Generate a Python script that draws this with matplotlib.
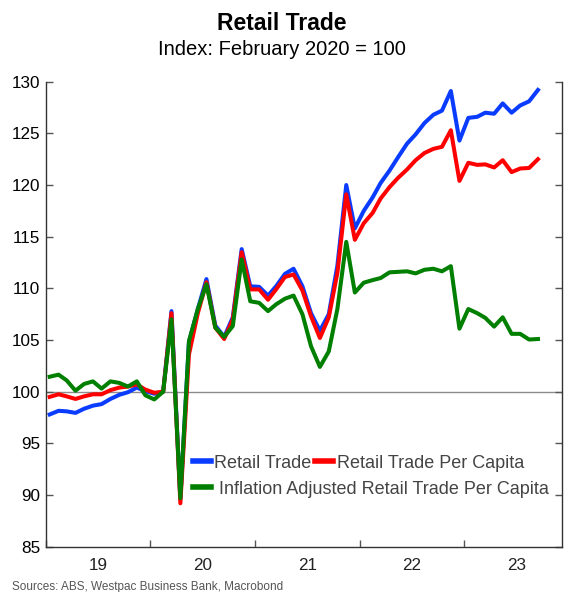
import matplotlib
matplotlib.use('Agg')
import matplotlib.pyplot as plt
import matplotlib.dates as mdates
from matplotlib.lines import Line2D
import pandas as pd
import datetime as dt

plt.rcParams['font.family'] = ['Liberation Sans', 'DejaVu Sans']

# monthly, Jan 2019 - Sep 2023, plotted mid-month
months = pd.date_range('2019-01-01', periods=57, freq='MS') + pd.Timedelta(days=14)

retail = [97.8, 98.15, 98.1, 97.95, 98.35, 98.65, 98.8, 99.3, 99.7, 99.95, 100.4, 100.05,
          99.8, 100.0, 107.8, 89.6, 104.8, 108.0, 110.9, 106.4, 105.3, 107.2, 113.8, 110.2,
          110.15, 109.3, 110.2, 111.4, 111.9, 110.2, 107.6, 105.9, 107.5, 112.2, 120.0, 115.8,
          117.5, 118.8, 120.2, 121.4, 122.7, 124.0, 124.9, 126.0, 126.8, 127.2, 129.1, 124.3,
          126.5, 126.6, 127.0, 126.9, 127.9, 127.0, 127.7, 128.1, 129.2]

per_capita = [99.5, 99.75, 99.55, 99.3, 99.55, 99.75, 99.75, 100.15, 100.4, 100.5, 100.7, 100.2,
              99.9, 100.0, 107.6, 89.2, 103.6, 107.6, 110.6, 106.2, 105.1, 107.0, 113.5, 109.9,
              109.9, 108.9, 109.9, 111.1, 111.35, 109.8, 107.3, 105.2, 107.2, 111.5, 119.1, 114.7,
              116.3, 117.3, 118.7, 119.8, 120.7, 121.5, 122.4, 123.1, 123.5, 123.7, 125.3, 120.4,
              122.15, 121.95, 122.0, 121.7, 122.4, 121.25, 121.6, 121.65, 122.5]

real_per_capita = [101.45, 101.65, 101.1, 100.1, 100.75, 101.0, 100.3, 101.0, 100.85, 100.5, 101.0, 99.65,
                   99.25, 100.0, 107.0, 89.7, 104.9, 108.0, 110.4, 106.2, 105.3, 106.35, 112.8, 108.75,
                   108.6, 107.8, 108.45, 109.0, 109.3, 107.5, 104.4, 102.4, 103.9, 108.0, 114.5, 109.6,
                   110.55, 110.8, 111.0, 111.55, 111.6, 111.65, 111.45, 111.8, 111.9, 111.65, 112.15, 106.1,
                   108.0, 107.6, 107.15, 106.3, 107.2, 105.6, 105.6, 105.05, 105.1]

years = [2019, 2020, 2021, 2022, 2023]
year_labels = ['19', '20', '21', '22', '23']

BLUE = '#0a3cff'
RED = '#ff0000'
GREEN = '#007f00'

fig = plt.figure(figsize=(5.64, 5.92), dpi=100)
ax = fig.add_axes([0.081, 0.0765, 0.916, 0.7855])

ax.axhline(100, color='#8c8c8c', lw=1.0, zorder=1)
ax.plot(months, retail, color=BLUE, lw=2.9, zorder=2)
ax.plot(months, per_capita, color=RED, lw=2.9, zorder=3)
ax.plot(months, real_per_capita, color=GREEN, lw=2.9, zorder=4)

ax.set_ylim(85, 130)
ax.set_yticks(range(85, 131, 5))
ax.set_xlim(dt.date(2019, 1, 1), dt.date(2023, 12, 9))

ax.xaxis.set_major_locator(mdates.YearLocator())
ax.xaxis.set_major_formatter(plt.NullFormatter())
ax.set_xticks([dt.date(y, 7, 2) for y in years], minor=True)
ax.set_xticklabels(year_labels, minor=True)

ax.spines['top'].set_visible(False)
for s in ['left', 'right', 'bottom']:
    ax.spines[s].set_color('#333333')
    ax.spines[s].set_linewidth(1.0)

ax.tick_params(axis='y', direction='in', length=5, width=1, color='#555555',
               labelsize=12.3, right=True, labelright=False, pad=4)
ax.tick_params(axis='x', which='major', direction='in', length=5, width=1, color='#555555')
ax.tick_params(axis='x', which='minor', length=0, labelsize=12.3, pad=8, labelcolor='#222222')

fig.text(0.5, 0.96, 'Retail Trade', ha='center', va='center', fontsize=16.5, fontweight='bold')
fig.text(0.5, 0.917, 'Index: February 2020 = 100', ha='center', va='center', fontsize=14.5)
fig.text(0.022, 0.008, 'Sources: ABS, Westpac Business Bank, Macrobond', ha='left', va='center',
         fontsize=8.5, color='#555555')

h1 = [Line2D([], [], color=BLUE, lw=4), Line2D([], [], color=RED, lw=4)]
leg1 = ax.legend(h1, ['Retail Trade', 'Retail Trade Per Capita'], ncol=2, frameon=False,
                 loc='center left', bbox_to_anchor=(0.2846, 0.18), borderpad=0, borderaxespad=0,
                 handlelength=1.0, handletextpad=0.2, columnspacing=0.2, fontsize=13,
                 labelcolor='#444444')
ax.add_artist(leg1)
h2 = [Line2D([], [], color=GREEN, lw=4)]
ax.legend(h2, [' Inflation Adjusted Retail Trade Per Capita'], frameon=False,
          loc='center left', bbox_to_anchor=(0.2846, 0.124), borderpad=0, borderaxespad=0,
          handlelength=1.0, handletextpad=0.2, fontsize=13, labelcolor='#444444')

fig.savefig('out.png', dpi=100)
